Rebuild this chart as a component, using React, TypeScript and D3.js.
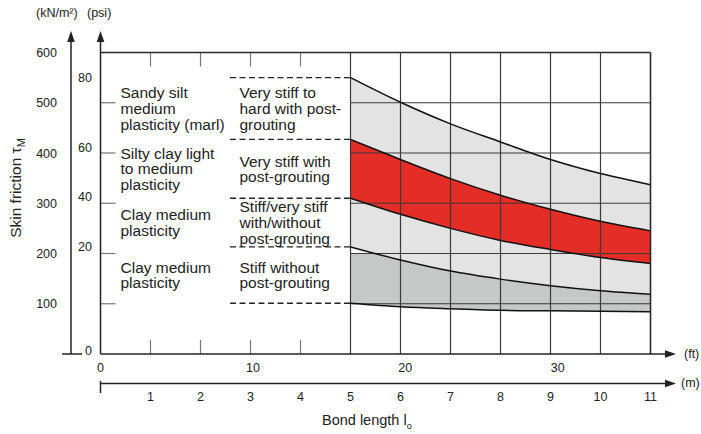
import { scaleLinear, area, line, curveMonotoneX } from "d3";

// bond length (m) where the design curves are read
const bondLength = [5, 6, 7, 8, 9, 10, 11];
// skin friction (kN/m²), from the top curve down
const hardPost = [550, 501, 458, 422, 387, 359, 337];
const veryStiffTop = [427, 387, 349, 316, 288, 264, 245];
const veryStiffBottom = [310, 278, 250, 226, 208, 192, 180];
const stiffTop = [213, 187, 165, 149, 136, 126, 119];
const stiffBottom = [101, 94, 90, 87, 86, 85, 84];

const knTicks = [100, 200, 300, 400, 500, 600];
const psiTicks = ["80", "60", "40", "20", "0"];
// where the psi labels sit, in kN/m² (as printed on the reference)
const psiTickAt = [550, 411, 314, 213, 6];
const ftTicks = [0, 10, 20, 30];
const mTicks = [1, 2, 3, 4, 5, 6, 7, 8, 9, 10, 11];

const soilLabels = [
  ["Sandy silt", "medium", "plasticity (marl)"],
  ["Silty clay light", "to medium", "plasticity"],
  ["Clay medium", "plasticity"],
  ["Clay medium", "plasticity"],
];
const conditionLabels = [
  ["Very stiff to", "hard with post-", "grouting"],
  ["Very stiff with", "post-grouting"],
  ["Stiff/very stiff", "with/without", "post-grouting"],
  ["Stiff without", "post-grouting"],
];

const width = 701;
const height = 434;
const FONT = "'Liberation Sans', Arial, Helvetica, sans-serif";
const INK = "#222";

const LIGHT = "#e3e3e3";
const RED = "#e32d26";
const DARK = "#c6c7c7";

export default function App() {
  const x = scaleLinear().domain([0, 11]).range([100.5, 650.5]);
  const y = scaleLinear().domain([0, 600]).range([354, 52.5]);
  const ftX = (ft: number) => x(ft * 0.3048);

  const curves = [hardPost, veryStiffTop, veryStiffBottom, stiffTop, stiffBottom];
  const bandEdges = curves.map((c) => c[0]);

  const band = (top: number[], bottom: number[]) =>
    area<number>()
      .x((_, i) => x(bondLength[i]))
      .y0((_, i) => y(bottom[i]))
      .y1((_, i) => y(top[i]))
      .curve(curveMonotoneX)(bondLength) as string;

  const curvePath = (vals: number[]) =>
    line<number>()
      .x((_, i) => x(bondLength[i]))
      .y((d) => y(d))
      .curve(curveMonotoneX)(vals) as string;

  const x0 = x(0);
  const xEnd = x(11);
  const yTop = y(600);
  const yBase = y(0);
  const mAxisY = 383.5;
  const lineH = 15.6;

  return (
    <svg
      width={width}
      height={height}
      style={{ position: "absolute", left: 0, top: 0, fontFamily: FONT }}>
      <rect width={width} height={height} fill="white" />
      <defs>
        <clipPath id="below200">
          <rect x={x(5)} y={y(200)} width={xEnd - x(5)} height={yBase - y(200)} />
        </clipPath>
      </defs>

      {/* bands */}
      <path d={band(hardPost, veryStiffTop)} fill={LIGHT} />
      <path d={band(veryStiffTop, veryStiffBottom)} fill={RED} />
      <path d={band(veryStiffBottom, stiffTop)} fill={LIGHT} />
      <path d={band(stiffTop, stiffBottom)} fill={DARK} clipPath="url(#below200)" />

      {/* grid in the curve area */}
      {[5, 6, 7, 8, 9, 10].map((m) => (
        <line key={"v" + m} x1={x(m)} x2={x(m)} y1={yTop} y2={yBase} stroke="#3a3a3a" strokeWidth={1.2} />
      ))}
      {[100, 200, 300, 400, 500].map((v) => (
        <line key={"h" + v} x1={x(5)} x2={xEnd} y1={y(v)} y2={y(v)} stroke="#3a3a3a" strokeWidth={1.2} />
      ))}
      {/* short ticks in the text area */}
      {[1, 2, 3, 4].map((m) => (
        <g key={"t" + m} stroke="#777" strokeWidth={1.2}>
          <line x1={x(m)} x2={x(m)} y1={yTop} y2={yTop + 14} />
          <line x1={x(m)} x2={x(m)} y1={yBase} y2={yBase - 14} />
        </g>
      ))}
      {[100, 200, 300, 400, 500].map((v) => (
        <line key={"pt" + v} x1={x0} x2={x0 + 15} y1={y(v)} y2={y(v)} stroke="#777" strokeWidth={1.2} />
      ))}

      {/* dashed band separators */}
      {bandEdges.map((v, i) => (
        <line
          key={"d" + i}
          x1={230}
          x2={x(5)}
          y1={y(v)}
          y2={y(v)}
          stroke={INK}
          strokeWidth={1.3}
          strokeDasharray="6,3.5"
        />
      ))}

      {/* curves */}
      {curves.map((c, i) => (
        <path key={"c" + i} d={curvePath(c)} fill="none" stroke="#111" strokeWidth={1.5} />
      ))}

      {/* frame */}
      <line x1={x0} x2={xEnd} y1={yTop} y2={yTop} stroke="#2a2a2a" strokeWidth={1.6} />
      <line x1={xEnd} x2={xEnd} y1={yTop} y2={yBase} stroke="#2a2a2a" strokeWidth={1.6} />

      {/* vertical axes */}
      <line x1={x0} x2={x0} y1={yBase} y2={38} stroke={INK} strokeWidth={1.5} />
      <polygon points={`${x0 - 3.8},${42} ${x0 + 3.8},${42} ${x0},${31}`} fill={INK} />
      <line x1={71} x2={71} y1={yBase} y2={38} stroke={INK} strokeWidth={1.5} />
      <polygon points={`${71 - 3.8},${42} ${71 + 3.8},${42} ${71},${31}`} fill={INK} />
      <line x1={62} x2={82} y1={yBase} y2={yBase} stroke={INK} strokeWidth={1.5} />

      {/* horizontal axes */}
      <line x1={x0} x2={668} y1={yBase} y2={yBase} stroke={INK} strokeWidth={1.5} />
      <polygon points={`${665},${yBase - 3.8} ${665},${yBase + 3.8} ${676},${yBase}`} fill={INK} />
      <line x1={x0} x2={668} y1={mAxisY} y2={mAxisY} stroke={INK} strokeWidth={1.5} />
      <polygon points={`${665},${mAxisY - 3.8} ${665},${mAxisY + 3.8} ${676},${mAxisY}`} fill={INK} />
      <line x1={x0} x2={x0} y1={381} y2={393} stroke={INK} strokeWidth={1.5} />

      {/* tick labels */}
      <g fontSize={12.5} fill={INK}>
        {knTicks.map((v) => (
          <text key={"kn" + v} x={57} y={y(v) + 4.5} textAnchor="end">
            {v}
          </text>
        ))}
        {psiTicks.map((p, i) => (
          <text key={"psi" + p} x={92} y={y(psiTickAt[i]) + 4.5} textAnchor="end">
            {p}
          </text>
        ))}
        {ftTicks.map((f) => (
          <text key={"ft" + f} x={ftX(f)} y={372} textAnchor="middle">
            {f}
          </text>
        ))}
        {mTicks.map((m) => (
          <text key={"m" + m} x={x(m)} y={401} textAnchor="middle">
            {m}
          </text>
        ))}
        <text x={684} y={358}>(ft)</text>
        <text x={681} y={387}>(m)</text>
        <text x={36} y={17}>(kN/m²)</text>
        <text x={87} y={17}>(psi)</text>
      </g>

      {/* axis titles */}
      <text
        transform="translate(21,188) rotate(-90)"
        textAnchor="middle"
        fontSize={15.5}
        fill={INK}>
        Skin friction τ
        <tspan fontSize={11} dy={4}>
          M
        </tspan>
      </text>
      <text x={322} y={425} fontSize={14.5} fill={INK}>
        Bond length l
        <tspan fontSize={9} dy={4}>
          o
        </tspan>
      </text>

      {/* band descriptions */}
      <g fontSize={15.5} fill={INK}>
        {soilLabels.map((lines, b) => {
          const mid = (y(bandEdges[b]) + y(bandEdges[b + 1])) / 2;
          const first = mid - ((lines.length - 1) * lineH) / 2;
          return lines.map((t, j) => (
            <text key={"s" + b + j} x={120.5} y={first + j * lineH + 5.5}>
              {t}
            </text>
          ));
        })}
        {conditionLabels.map((lines, b) => {
          const mid = (y(bandEdges[b]) + y(bandEdges[b + 1])) / 2;
          const first = mid - ((lines.length - 1) * lineH) / 2;
          return lines.map((t, j) => (
            <text key={"c" + b + j} x={239.5} y={first + j * lineH + 5.5}>
              {t}
            </text>
          ));
        })}
      </g>
    </svg>
  );
}
